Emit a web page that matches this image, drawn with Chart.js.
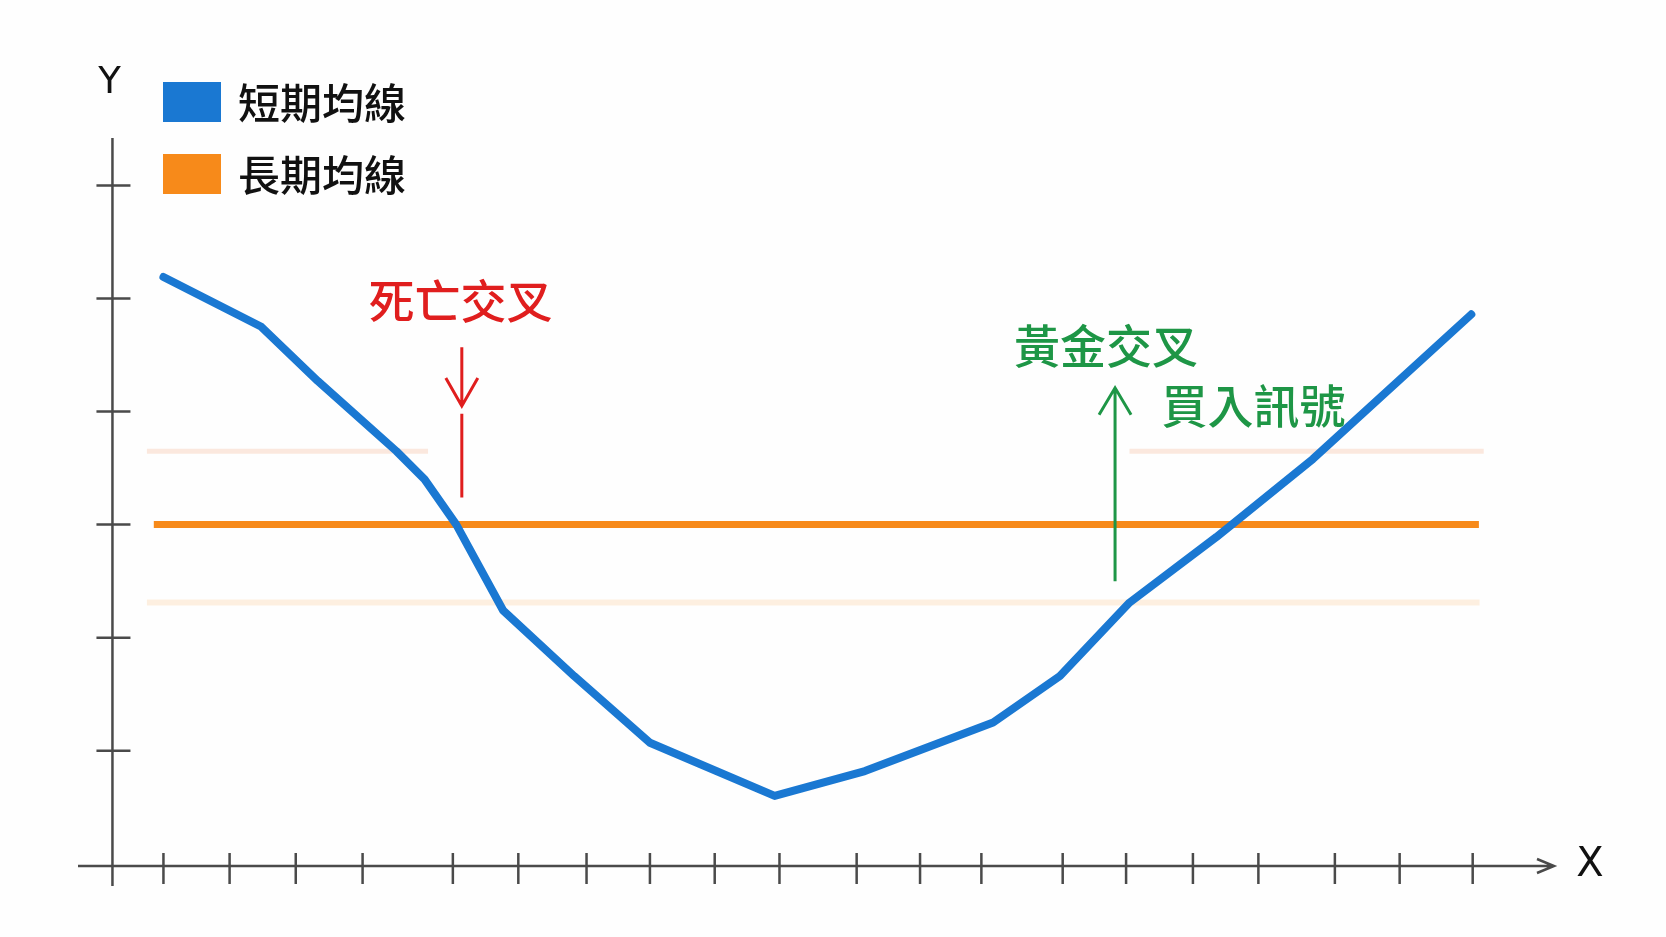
<!DOCTYPE html>
<html>
<head>
<meta charset="utf-8">
<script src="https://cdn.jsdelivr.net/npm/chart.js@4"></script>
<style>
  html, body { margin: 0; padding: 0; background: #fefefe; }
  #wrap { width: 1666px; height: 937px; }
</style>
</head>
<body>
<div id="wrap"><canvas id="chart" width="1666" height="937"></canvas></div>
<script>
// values (x in tick units, y in y-tick units)
const xTicks = [1, 1.96, 2.92, 3.89, 5.2, 6.15, 7.14, 8.06, 9.0, 9.94, 11.06, 11.98, 12.87, 14.05, 14.97, 15.94, 16.89, 18.0, 18.94, 20.0]
const yTicks = [1, 2, 3, 4, 5, 6]

const shortX = [1.0, 2.42, 3.24, 4.38, 4.79, 5.25, 5.93, 6.96, 8.06, 9.87, 11.18, 13.04, 14.01, 15.02, 16.28, 17.68, 19.98]
const shortY = [5.19, 4.75, 4.27, 3.65, 3.40, 3.00, 2.24, 1.66, 1.07, 0.60, 0.82, 1.25, 1.66, 2.31, 2.89, 3.58, 4.86]

const longX = [0.86, 20.09]
const longY = [3.0, 3.0]

// faint bands around the long average
const bandUpper = 3.65
const bandLower = 2.31
const bandUpperSpans = [[0.76, 4.84], [15.02, 20.16]]
const bandLowerSpan = [0.76, 20.1]

const legendLabels = ['短期均線', '長期均線']
const axisLabels = ['X', 'Y']

const notes = [
  { text: '死亡交叉', x: 5.31, y: 4.98, color: '#e01e1e' },
  { text: '黃金交叉', x: 14.68, y: 4.58, color: '#1e9646' },
  { text: '買入訊號', x: 16.82, y: 4.05, color: '#1e9646' }
]
const signals = [
  { x: 5.33, from: 4.57, to: 3.24, tip: 4.05, gapTo: 3.98, color: '#e01e1e' },
  { x: 14.81, from: 2.50, to: 4.21, tip: 4.21, color: '#1e9646' }
]

const BLUE = '#1a78d2'
const ORANGE = '#f78a1a'
const AXIS = '#4a4a4a'
const CJK = '"Noto Sans CJK TC", "Noto Sans CJK SC", sans-serif'
const yAxisAtX = 0.26

const pts = (xs, ys) => xs.map((x, i) => ({ x: x, y: ys[i] }))

const bandSets = []
bandUpperSpans.forEach(s => bandSets.push({
  data: [{ x: s[0], y: bandUpper }, { x: s[1], y: bandUpper }],
  borderColor: '#fbe8de', borderWidth: 5, order: 3
}))
bandSets.push({
  data: [{ x: bandLowerSpan[0], y: bandLower }, { x: bandLowerSpan[1], y: bandLower }],
  borderColor: '#fdefe0', borderWidth: 6, order: 3
})

const sketchPlugin = {
  id: 'sketch',
  afterDatasetsDraw(chart) {
    const ctx = chart.ctx
    const xs = chart.scales.x
    const ys = chart.scales.y
    const area = chart.chartArea
    const ax = xs.getPixelForValue(yAxisAtX)
    const ay = area.bottom

    ctx.save()
    ctx.strokeStyle = AXIS
    ctx.lineWidth = 2.5
    ctx.lineCap = 'butt'
    // x axis with arrow
    ctx.beginPath()
    ctx.moveTo(area.left, ay)
    ctx.lineTo(area.right, ay)
    ctx.moveTo(area.right - 17, ay - 7)
    ctx.lineTo(area.right, ay)
    ctx.lineTo(area.right - 17, ay + 7)
    ctx.stroke()
    // y axis
    ctx.beginPath()
    ctx.moveTo(ax, area.top)
    ctx.lineTo(ax, ay + 20)
    ctx.stroke()
    // ticks
    ctx.beginPath()
    xTicks.forEach(t => {
      const px = xs.getPixelForValue(t)
      ctx.moveTo(px, ay - 13)
      ctx.lineTo(px, ay + 18)
    })
    yTicks.forEach(t => {
      const py = ys.getPixelForValue(t)
      ctx.moveTo(ax - 16, py)
      ctx.lineTo(ax + 18, py)
    })
    ctx.stroke()

    // axis names
    ctx.fillStyle = '#111'
    ctx.textAlign = 'center'
    ctx.textBaseline = 'middle'
    ctx.font = '40px "DejaVu Sans", sans-serif'
    ctx.fillText(axisLabels[0], area.right + 36, ay)
    ctx.font = '37px "DejaVu Sans", sans-serif'
    ctx.fillText(axisLabels[1], ax - 3, area.top - 55)

    // signal arrows
    signals.forEach(s => {
      const px = xs.getPixelForValue(s.x)
      const tip = ys.getPixelForValue(s.tip)
      const up = s.to > s.from
      ctx.strokeStyle = s.color
      ctx.lineWidth = 3
      ctx.beginPath()
      if (s.gapTo !== undefined) {
        ctx.moveTo(px, ys.getPixelForValue(s.from))
        ctx.lineTo(px, tip)
        ctx.moveTo(px, ys.getPixelForValue(s.gapTo))
        ctx.lineTo(px, ys.getPixelForValue(s.to))
      } else {
        ctx.moveTo(px, ys.getPixelForValue(s.from))
        ctx.lineTo(px, ys.getPixelForValue(s.to))
      }
      const d = up ? 27 : -28
      ctx.moveTo(px - 16, tip + d)
      ctx.lineTo(px, tip)
      ctx.lineTo(px + 16, tip + d)
      ctx.stroke()
    })

    // notes
    notes.forEach(n => {
      ctx.fillStyle = n.color
      ctx.font = '500 46px ' + CJK
      ctx.fillText(n.text, xs.getPixelForValue(n.x), ys.getPixelForValue(n.y))
    })

    // legend
    const colors = [BLUE, ORANGE]
    legendLabels.forEach((label, i) => {
      const top = 82 + i * 72
      ctx.fillStyle = colors[i]
      ctx.fillRect(163, top, 58, 40)
      ctx.fillStyle = '#111'
      ctx.textAlign = 'left'
      ctx.font = '500 42px ' + CJK
      ctx.fillText(label, 238, top + 21)
    })
    ctx.restore()
  }
}

new Chart(document.getElementById('chart').getContext('2d'), {
  type: 'line',
  data: {
    datasets: [
      {
        label: legendLabels[0],
        data: pts(shortX, shortY),
        borderColor: BLUE,
        borderWidth: 8,
        borderCapStyle: 'round',
        borderJoinStyle: 'round',
        order: 1
      },
      {
        label: legendLabels[1],
        data: pts(longX, longY),
        borderColor: ORANGE,
        borderWidth: 7,
        order: 2
      },
      ...bandSets
    ]
  },
  options: {
    responsive: false,
    animation: false,
    events: [],
    layout: { padding: { left: 78, right: 112, top: 138, bottom: 71 } },
    elements: { point: { radius: 0 }, line: { tension: 0 } },
    scales: {
      x: { type: 'linear', min: -0.24, max: 21.18, display: false },
      y: { type: 'linear', min: -0.02, max: 6.42, display: false }
    },
    plugins: { legend: { display: false }, tooltip: { enabled: false } }
  },
  plugins: [sketchPlugin]
})
</script>
</body>
</html>
